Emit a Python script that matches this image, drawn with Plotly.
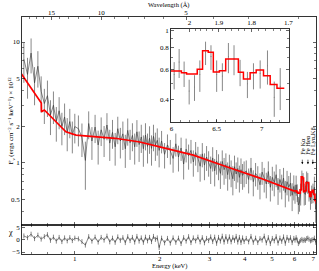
import math
import plotly.graph_objects as go

# ---------------- data ----------------
E1 = [0.66,0.68,0.70,0.72,0.74,0.76,0.78,0.80,0.82,0.84,0.86,0.88,0.90,0.92,0.94,0.96,0.98,1.00]
F1 = [7.2,5.4,8.1,4.6,6.3,3.9,3.1,3.6,2.5,3.0,2.2,2.7,2.0,2.4,1.8,2.2,1.7,2.0]
S1 = [2.6,2.0,2.6,1.6,2.1,1.3,1.0,1.2,0.8,0.9,0.7,0.8,0.6,0.7,0.55,0.6,0.5,0.55]
R1 = [1.5,0.8,2.2,0.4,1.8,0.2,1.2,2.0,-0.3,1.0,-0.6,0.9,-0.8,0.7,-0.5,0.8,-0.4,0.6]

E2 = [1.03,1.06,1.09,1.12,1.15,1.18,1.21,1.24,1.27,1.30,1.33,1.36,1.39,1.42,1.45,1.48,1.51,
      1.54,1.57,1.60,1.63,1.66,1.69,1.72,1.75,1.78,1.81,1.84,1.87,1.90,1.93,1.96,1.99]
F2 = [1.92,1.62,1.05,2.12,1.52,1.98,1.41,1.88,1.57,2.06,1.46,1.79,1.36,1.92,1.52,1.74,1.31,
      1.86,1.47,1.69,1.36,1.81,1.42,1.64,1.31,1.70,1.37,1.60,1.32,1.66,1.41,1.54,1.27]
S2 = [0.55,0.50,0.45,0.55,0.46,0.52,0.44,0.50,0.45,0.52,0.42,0.48,0.41,0.49,0.43,0.46,0.40,
      0.47,0.41,0.44,0.39,0.45,0.40,0.43,0.38,0.43,0.38,0.41,0.37,0.41,0.37,0.39,0.35]
R2 = [0.3,-0.8,-2.2,1.2,-0.6,1.0,-1.0,0.9,-0.2,1.4,-0.9,0.6,-1.1,1.1,-0.3,0.8,-1.2,
      1.2,-0.4,0.9,-1.0,1.3,-0.6,0.7,-1.1,1.0,-0.5,0.9,-0.8,1.3,0.1,0.7,-3.2]

E3 = [2.03,2.08,2.13,2.18,2.23,2.28,2.33,2.38,2.43,2.48,2.53,2.58,2.63,2.68,2.73,2.78,2.83,2.88,2.93,2.98,
      3.03,3.08,3.13,3.18,3.23,3.28,3.33,3.38,3.43,3.48,3.53,3.58,3.63,3.68,3.73,3.78,3.83,3.88,3.93,3.98]
F3 = [1.52,1.18,1.41,1.26,1.09,1.44,1.12,1.33,0.98,1.30,1.15,1.27,1.02,1.22,1.10,0.94,1.19,0.96,1.12,1.01,
      0.90,1.10,0.86,1.04,0.95,0.82,1.03,0.88,0.97,0.80,0.95,0.84,0.74,0.93,0.81,0.90,0.76,0.88,0.79,0.83]
S3 = [0.32,0.28,0.31,0.29,0.26,0.31,0.27,0.29,0.25,0.29,0.27,0.28,0.25,0.27,0.26,0.24,0.27,0.24,0.26,0.24,
      0.23,0.25,0.22,0.24,0.23,0.21,0.24,0.22,0.23,0.21,0.22,0.21,0.20,0.22,0.20,0.21,0.19,0.21,0.19,0.20]
R3 = [0.6,-1.3,0.5,-1.4,0.7,-1.1,0.6,-1.6,0.8,-0.6,1.2,-1.2,0.7,-0.5,1.0,-0.9,0.8,-1.3,0.5,-0.4,
      1.1,-0.8,1.0,-1.5,0.9,-0.6,1.4,-1.0,1.2,-0.7,1.1,-0.9,0.8,-0.3,1.3,-1.0,0.9,-1.2,0.7,-0.8]

E4 = [4.05,4.13,4.21,4.29,4.37,4.45,4.53,4.61,4.69,4.77,4.85,4.93,5.01,5.09,5.17,5.25,5.33,5.41,5.49,
      5.57,5.65,5.73,5.81,5.89,5.97]
F4 = [0.86,0.73,0.91,0.70,0.82,0.77,0.66,0.84,0.74,0.67,0.85,0.63,0.76,0.69,0.80,0.60,0.73,0.65,0.75,
      0.57,0.70,0.63,0.68,0.54,0.64]
S4 = [0.19,0.17,0.19,0.17,0.18,0.17,0.16,0.18,0.17,0.16,0.18,0.15,0.17,0.16,0.17,0.15,0.16,0.15,0.16,
      0.14,0.16,0.15,0.15,0.14,0.15]
R4 = [0.5,-0.9,1.3,-1.1,0.6,-1.2,0.4,-0.2,1.4,-1.3,0.8,-1.6,0.5,-0.5,1.2,-1.4,0.6,-0.7,1.1,
      -1.5,0.9,-0.3,0.8,-1.2,0.5]

# Fe-line region (also shown in the inset)
E5 = [6.03,6.085,6.14,6.196,6.255,6.314,6.377,6.437,6.50,6.563,6.63,6.692,6.759,6.84,6.907,6.981,7.062,7.137,7.203]
F5 = [0.56,0.66,0.57,0.45,0.475,0.56,0.75,0.71,0.56,0.55,0.71,0.69,0.58,0.495,0.555,0.57,0.63,0.415,0.48]
S5 = [0.10,0.125,0.095,0.073,0.08,0.115,0.115,0.115,0.115,0.10,0.14,0.135,0.10,0.085,0.095,0.105,0.14,0.095,0.13]
R5 = [-0.2,0.8,-0.2,-1.6,-0.9,-0.3,0.1,-0.4,-0.1,-0.3,0.4,0.6,0.1,-0.5,-0.2,0.0,0.6,-1.1,0.2]

# model continuum (red line)
model_e = [0.645,0.75,0.761,0.762,0.78,0.93,1.01,1.39,1.70,2.0,2.63,3.45,4.53,6.0]
model_f = [5.50,3.32,3.13,2.65,2.74,1.81,1.70,1.60,1.49,1.36,1.16,0.93,0.75,0.585]
# model in Fe region, binned (step edges and bin values)
fe_e = [5.99,6.11,6.167,6.285,6.344,6.407,6.463,6.53,6.60,6.74,6.796,6.87,6.937,7.018,7.092,7.167,7.248]
fe_f = [0.587,0.574,0.564,0.600,0.767,0.751,0.579,0.589,0.688,0.577,0.528,0.574,0.594,0.551,0.490,0.467,0.467]

main_e_ticks = [1, 2, 3, 4, 5, 6, 7]
main_e_minor = [0.7,0.8,0.9,1.2,1.4,1.6,1.8,2.2,2.4,2.6,2.8,3.2,3.4,3.6,3.8,4.2,4.4,4.6,4.8,
                5.2,5.4,5.6,5.8,6.2,6.4,6.6,6.8,7.2]
wl_major = [15, 10, 5]
wl_minor = [19, 18, 17, 16, 14, 13, 12, 11, 9, 8, 7, 6, 4, 3, 2]
flux_ticks = [0.5, 1, 2, 5, 10]
flux_minor = [0.4, 0.6, 0.7, 0.8, 0.9, 3, 4, 6, 7, 8, 9]
inset_wl_major = [2, 1.9, 1.8, 1.7]
inset_wl_minor = [1.98,1.96,1.94,1.92,1.88,1.86,1.84,1.82,1.78,1.76,1.74,1.72]
fe_labels = ["Fe Kα", "Fe Heα", "Fe Lyα,Kβ"]
fe_label_e = [6.4, 6.7, 6.97]

HC = 12.398  # keV * Angstrom

energy = E1 + E2 + E3 + E4 + E5
flux = F1 + F2 + F3 + F4 + F5
sig = S1 + S2 + S3 + S4 + S5
resid = R1 + R2 + R3 + R4 + R5

# ---------------- figure ----------------
FONT = "Liberation Serif"
GREY = "#7a7a7a"
DARK = "#333333"
fig = go.Figure()

fig.add_trace(go.Scatter(x=energy, y=flux, mode="lines", xaxis="x", yaxis="y",
                         line=dict(color=DARK, width=0.6),
                         error_y=dict(type="data", array=sig, color=GREY, thickness=0.9, width=0)))
fig.add_trace(go.Scatter(x=model_e, y=model_f, mode="lines", xaxis="x", yaxis="y",
                         line=dict(color="#ff0000", width=1.7)))
fig.add_trace(go.Scatter(x=fe_e, y=fe_f, mode="lines", xaxis="x", yaxis="y",
                         line=dict(color="#ff0000", width=1.7, shape="hv")))
fig.add_trace(go.Scatter(x=[1], y=[1], mode="markers", xaxis="x2", yaxis="y",
                         marker=dict(opacity=0), hoverinfo="skip"))

fig.add_trace(go.Scatter(x=energy, y=resid, mode="lines", xaxis="x3", yaxis="y2",
                         line=dict(color=DARK, width=0.6),
                         error_y=dict(type="constant", value=1, color=GREY, thickness=0.9, width=0)))

fig.add_trace(go.Scatter(x=[5.8, 7.5, 7.5, 5.8, 5.8], y=[0.2, 0.2, 1.5, 1.5, 0.2], mode="lines",
                         fill="toself", fillcolor="white", line=dict(width=0),
                         xaxis="x4", yaxis="y3", hoverinfo="skip"))
fig.add_trace(go.Scatter(x=E5, y=F5, mode="markers", xaxis="x4", yaxis="y3",
                         marker=dict(size=1, color=GREY),
                         error_y=dict(type="data", array=S5, color=GREY, thickness=0.9, width=0)))
fig.add_trace(go.Scatter(x=fe_e, y=fe_f, mode="lines", xaxis="x4", yaxis="y3",
                         line=dict(color="#ff0000", width=1.5, shape="hv")))
fig.add_trace(go.Scatter(x=[6.5], y=[0.5], mode="markers", xaxis="x5", yaxis="y3",
                         marker=dict(opacity=0), hoverinfo="skip"))

W, H = 319, 271
xd = [22 / W, 316 / W]
main_y = [1 - 225 / H, 1 - 17 / H]
res_y = [1 - 254 / H, 1 - 225 / H]
ins_x = [171 / W, 289 / W]
ins_y = [1 - 121.7 / H, 1 - 29 / H]
erange = [math.log10(0.65), math.log10(7.155)]

ax_common = dict(showline=True, linecolor="black", linewidth=0.8, ticks="inside", ticklen=3,
                 tickwidth=0.6, tickcolor="black", showgrid=False, zeroline=False, automargin=False,
                 color="black", tickfont=dict(family=FONT, size=7, color="black"))
minor_common = dict(ticks="inside", ticklen=1.6, tickwidth=0.5, tickcolor="black", showgrid=False)

fig.update_layout(
    width=W, height=H, margin=dict(l=0, r=0, t=0, b=0, autoexpand=False),
    paper_bgcolor="white", plot_bgcolor="white", showlegend=False, hovermode=False,
    font=dict(family=FONT, size=7, color="black"),
    xaxis=dict(ax_common, type="log", range=erange, domain=xd, anchor="y",
               tickmode="array", tickvals=main_e_ticks, showticklabels=False,
               minor=dict(minor_common, tickmode="array", tickvals=main_e_minor)),
    xaxis2=dict(ax_common, type="log", range=erange, overlaying="x", side="top", anchor="y",
                tickmode="array", tickvals=[HC / w for w in wl_major], ticklabelstandoff=-2,
                ticktext=[str(w) for w in wl_major],
                minor=dict(minor_common, tickmode="array", tickvals=[HC / w for w in wl_minor])),
    yaxis=dict(ax_common, type="log", range=[math.log10(0.307), math.log10(16.1)], domain=main_y,
               anchor="x", mirror="ticks", tickmode="array", tickvals=flux_ticks,
               ticktext=[("%g" % v) for v in flux_ticks],
               minor=dict(minor_common, tickmode="array", tickvals=flux_minor)),
    xaxis3=dict(ax_common, type="log", range=erange, domain=xd, anchor="y2", mirror="ticks",
                tickmode="array", tickvals=main_e_ticks, ticktext=[str(v) for v in main_e_ticks],
                ticklabelstandoff=-2,
                minor=dict(minor_common, tickmode="array", tickvals=main_e_minor)),
    yaxis2=dict(ax_common, range=[-5.8, 5.9], domain=res_y, anchor="x3", mirror="ticks",
                tickmode="array", tickvals=[-5, 0, 5], ticktext=["−5", "0", "5"]),
    xaxis4=dict(ax_common, range=[5.995, 7.30], domain=ins_x, anchor="y3",
                tickmode="array", tickvals=[6, 6.5, 7], ticktext=["6", "6.5", "7"],
                minor=dict(minor_common, dtick=0.1, tick0=6)),
    xaxis5=dict(ax_common, range=[5.995, 7.30], overlaying="x4", side="top", anchor="y3",
                tickmode="array", tickvals=[HC / w for w in inset_wl_major],
                ticktext=["%g" % w for w in inset_wl_major],
                minor=dict(minor_common, tickmode="array", tickvals=[HC / w for w in inset_wl_minor])),
    yaxis3=dict(ax_common, type="log", range=[math.log10(0.30), math.log10(1.023)], domain=ins_y,
                anchor="x4", mirror="ticks", tickmode="array", tickvals=[0.4, 0.6, 0.8, 1],
                ticktext=["0.4", "0.6", "0.8", "1"],
                minor=dict(minor_common, tickmode="array", tickvals=[0.3, 0.5, 0.7, 0.9])),
)

ann = []
ann.append(dict(text="Wavelength (Å)", xref="paper", yref="paper", x=(xd[0] + xd[1]) / 2,
                y=1, yanchor="top", showarrow=False, borderpad=0, font=dict(family=FONT, size=6.5)))
ann.append(dict(text="Energy (keV)", xref="paper", yref="paper", x=(xd[0] + xd[1]) / 2,
                y=0, yanchor="bottom", showarrow=False, borderpad=0, font=dict(family=FONT, size=6.5)))
ann.append(dict(text="F<sub>ν</sub> (ergs cm<sup>−2</sup> s<sup>−1</sup> keV<sup>−1</sup>) × 10<sup>12</sup>",
                xref="paper", yref="paper", x=5 / W, y=(main_y[0] + main_y[1]) / 2, textangle=-90,
                showarrow=False, font=dict(family=FONT, size=7)))
ann.append(dict(text="χ", xref="paper", yref="paper", x=6 / W, y=(res_y[0] + res_y[1]) / 2,
                showarrow=False, font=dict(family=FONT, size=8)))
for lab, e in zip(fe_labels, fe_label_e):
    ann.append(dict(text=lab, xref="x", yref="y", x=math.log10(e), y=0.05, yanchor="bottom",
                    xanchor="center", textangle=-90, showarrow=False, font=dict(family=FONT, size=6.5)))
    ann.append(dict(text="", xref="x", yref="y", x=math.log10(e), y=-0.01, ax=0, ay=-6,
                    showarrow=True, arrowhead=2, arrowsize=0.7, arrowwidth=0.6, arrowcolor="black"))
fig.update_layout(annotations=ann)

fig.write_html("out.html", config={"displayModeBar": False, "staticPlot": True},
               post_script="document.body.style.margin='0';document.body.style.padding='0';"
                           "document.body.style.overflow='hidden';")
